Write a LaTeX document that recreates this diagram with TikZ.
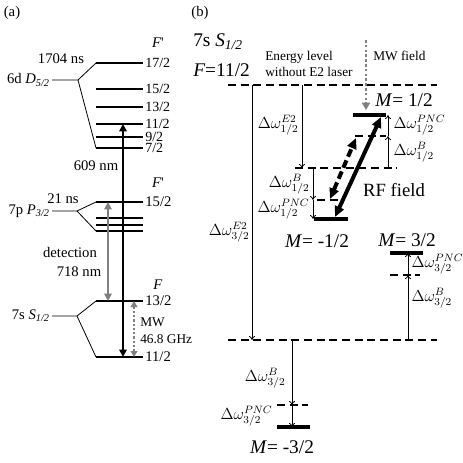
\documentclass[tikz,border=0pt]{standalone}
\usepackage{fontspec}
\setmainfont{Liberation Serif}
\usetikzlibrary{arrows.meta}
\definecolor{ArrowGray}{RGB}{128,128,128}

\begin{document}
\begin{tikzpicture}[x=0.75pt,y=-0.75pt,>=Latex,
    lev/.style={line width=1.5pt},
    fan/.style={line width=0.6pt},
    mlev/.style={line width=3pt},
    dlev/.style={line width=1pt,dash pattern=on 6pt off 3.5pt},
    shiftarr/.style={line width=0.6pt,-{To[length=3pt,width=4.5pt]}},
    bigarr/.style={line width=2.2pt,{Triangle[length=5.5pt,width=5.5pt]}-{Triangle[length=5.5pt,width=5.5pt]}},
    rfarr/.style={line width=3pt,{Triangle[length=8pt,width=7pt]}-{Triangle[length=8pt,width=7pt]}},
    lbl/.style={font=\fontsize{11}{12}\selectfont,inner sep=1.5pt},
    big/.style={font=\fontsize{14.5}{15}\selectfont,inner sep=0pt},
    dw/.style={font=\fontsize{12}{13}\selectfont,inner sep=1pt}]
  \useasboundingbox (0,0) rectangle (463,463);
  % (a) hyperfine levels
  \node[lbl] (pa) at (12,13) {(a)};
  \foreach \y/\lab/\n in {63/{17/2}/d17,89/{15/2}/d15,107/{13/2}/d13,124/{11/2}/d11,137/{9/2}/d9,148/{7/2}/d7}{
    \draw[lev] (96,\y) coordinate (w\n) -- (143,\y) coordinate (\n) node[lbl,right,font=\fontsize{10.5}{11}\selectfont,inner sep=1pt]{\lab};}
  \draw[fan] (52,80) coordinate (dS) -- (78,80) coordinate (dF) -- (wd17) (dF) -- (wd7);
  \node[lbl,left] (dlab) at (dS) {6d \textit{D}\textsubscript{\textit{5/2}}};
  \node[lbl] (dFp) at (158,43) {\textit{F}\textquotesingle};
  \node[lbl] (dlife) at (61,59) {1704 ns};
  \draw[lev] (96,202) coordinate (wp15) -- (143,202) coordinate (p15) node[lbl,right,inner sep=1pt]{15/2};
  \foreach \y/\n in {218/p3,225/p2,231/p1}
    \draw[lev] (96,\y) coordinate (w\n) -- (143,\y) coordinate (\n);
  \draw[fan] (52,211) coordinate (pS) -- (77,211) coordinate (pF) -- (wp15) (pF) -- (wp1);
  \node[lbl,left] (plab) at (pS) {7p \textit{P}\textsubscript{\textit{3/2}}};
  \node[lbl] (pFp) at (158,183) {\textit{F}\textquotesingle};
  \node[lbl] (plife) at (63,199) {21 ns};
  \foreach \y/\lab/\n in {301/{13/2}/s13,357/{11/2}/s11}{
    \draw[lev] (96,\y) coordinate (w\n) -- (143,\y) coordinate (\n) node[lbl,right,inner sep=1pt]{\lab};}
  \draw[fan] (52,316) coordinate (sS) -- (77,316) coordinate (sF) -- (ws13) (sF) -- (ws11);
  \node[lbl,left] (slab) at (sS) {7s \textit{S}\textsubscript{\textit{1/2}}};
  \node[lbl] (sFp) at (158,285) {\textit{F}};
  % transitions
  \coordinate (e2top) at (123,124); \coordinate (e2bot) at (123,357);
  \coordinate (dettop) at (108,202); \coordinate (detbot) at (108,301);
  \coordinate (mwtop) at (134,301); \coordinate (mwbot) at (134,357);
  \draw[bigarr] (e2bot) -- (e2top);
  \draw[bigarr,ArrowGray] (detbot) -- (dettop);
  \draw[ArrowGray,line width=1.6pt,dash pattern=on 1.6pt off 1.6pt,{Triangle[length=4.5pt,width=5pt]}-{Triangle[length=4.5pt,width=5pt]}] (mwbot) -- (mwtop);
  \node[lbl] (e2nm) at (96,166) {609 nm};
  \node[lbl] (det) at (70,252) {detection};
  \node[lbl] (detnm) at (79,272) {718 nm};
  \node[lbl,font=\fontsize{10}{11}\selectfont,anchor=west] (mwl) at (138,322) {MW};
  \node[lbl,font=\fontsize{10}{11}\selectfont,anchor=west] (mwf) at (138,339) {46.8 GHz};

  % (b) Zeeman sublevels
  \node[lbl] (pb) at (200,13) {(b)};
  \node[big,anchor=west] (ttl) at (193,42) {7s \textit{S}\textsubscript{\textit{1/2}}};
  \node[big,anchor=west] (ttlF) at (193,70) {\textit{F}=11/2};
  \node[lbl,font=\fontsize{10}{12.5}\selectfont,align=left,anchor=west] (noE2) at (263,64) {Energy level\\without E2 laser};
  \node[lbl,font=\fontsize{10}{11}\selectfont,anchor=west] (mwfield) at (371,56) {MW field};
  \draw[dlev] (228,85) coordinate (top0) -- (437,85) coordinate (top1);
  \draw[dlev] (228,340) coordinate (bot0) -- (437,340) coordinate (bot1);
  \coordinate (mwsrc) at (366,40); \coordinate (mwtip) at (366,110);
  \draw[ArrowGray,line width=2.2pt,dash pattern=on 2pt off 1.6pt,-{Triangle[length=5.5pt,width=6pt]}] (mwsrc) -- (mwtip);
  % M = 1/2 and -1/2
  \draw[dlev] (295,168) coordinate (h0) -- (397,168) coordinate (h1);
  \draw[mlev] (353,115) coordinate (mp0) -- (386,115) coordinate (mp1);
  \draw[dlev] (355,136) -- (386,136);
  \draw[mlev] (314,219) coordinate (mm0) -- (348,219) coordinate (mm1);
  \draw[dlev] (317,200) -- (338,200);
  \node[big] (mplab) at (404,100) {\textit{M}= 1/2};
  \node[big] (mmlab) at (317,241) {\textit{M}= -1/2};
  \coordinate (e2a) at (252,85); \coordinate (e2b) at (252,340);
  \coordinate (e1a) at (302,85); \coordinate (e1b) at (302,168);
  \draw[shiftarr] (e2a) -- (e2b);
  \draw[shiftarr] (e1a) -- (e1b);
  \node[dw,left] (we23) at (251,232) {$\Delta\omega^{E2}_{3/2}$};
  \node[dw,left] (we21) at (300,125) {$\Delta\omega^{E2}_{1/2}$};
  \coordinate (ra) at (388,168); \coordinate (rb) at (388,136); \coordinate (rc) at (388,115);
  \draw[shiftarr] (ra) -- (rb);
  \draw[shiftarr] (rb) -- (rc);
  \node[dw,right] (wp1) at (392,125) {$\Delta\omega^{PNC}_{1/2}$};
  \node[dw,right] (wb1) at (392,152) {$\Delta\omega^{B}_{1/2}$};
  \coordinate (la) at (313,168); \coordinate (lb) at (313,200); \coordinate (lc) at (313,219);
  \draw[shiftarr] (la) -- (lb);
  \draw[shiftarr] (lb) -- (lc);
  \node[dw,left] (wb2) at (311,184) {$\Delta\omega^{B}_{1/2}$};
  \node[dw,left] (wp2) at (311,209) {$\Delta\omega^{PNC}_{1/2}$};
  % RF transitions
  \coordinate (rfa) at (335,217); \coordinate (rfb) at (381,117);
  \coordinate (rfc) at (330,199); \coordinate (rfd) at (356,138);
  \draw[rfarr] (rfa) -- (rfb);
  \draw[rfarr,dash pattern=on 6pt off 3pt] (rfc) -- (rfd);
  \node[big,font=\fontsize{14}{15}\selectfont] (rf) at (394,190) {RF field};
  % M = 3/2
  \draw[mlev] (390,253) coordinate (m3p0) -- (423,253) coordinate (m3p1);
  \draw[dlev] (390,275) -- (420,275);
  \node[big] (m3plab) at (407,240) {\textit{M}= 3/2};
  \coordinate (qa) at (408,340); \coordinate (qb) at (408,275); \coordinate (qc) at (408,253);
  \draw[shiftarr] (qa) -- (qb);
  \draw[shiftarr] (qb) -- (qc);
  \node[dw,right] (wp3) at (410,264) {$\Delta\omega^{PNC}_{3/2}$};
  \node[dw,right] (wb3) at (410,298) {$\Delta\omega^{B}_{3/2}$};
  % M = -3/2
  \draw[dlev] (277,405) -- (308,405);
  \draw[mlev] (277,427) coordinate (m3m0) -- (310,427) coordinate (m3m1);
  \node[big] (m3mlab) at (282,447) {\textit{M}= -3/2};
  \coordinate (ka) at (292,340); \coordinate (kb) at (292,405); \coordinate (kc) at (292,427);
  \draw[shiftarr] (ka) -- (kb);
  \draw[shiftarr] (kb) -- (kc);
  \node[dw,left] (wb4) at (287,378) {$\Delta\omega^{B}_{3/2}$};
  \node[dw,left] (wp4) at (274,416) {$\Delta\omega^{PNC}_{3/2}$};
\end{tikzpicture}
\end{document}
